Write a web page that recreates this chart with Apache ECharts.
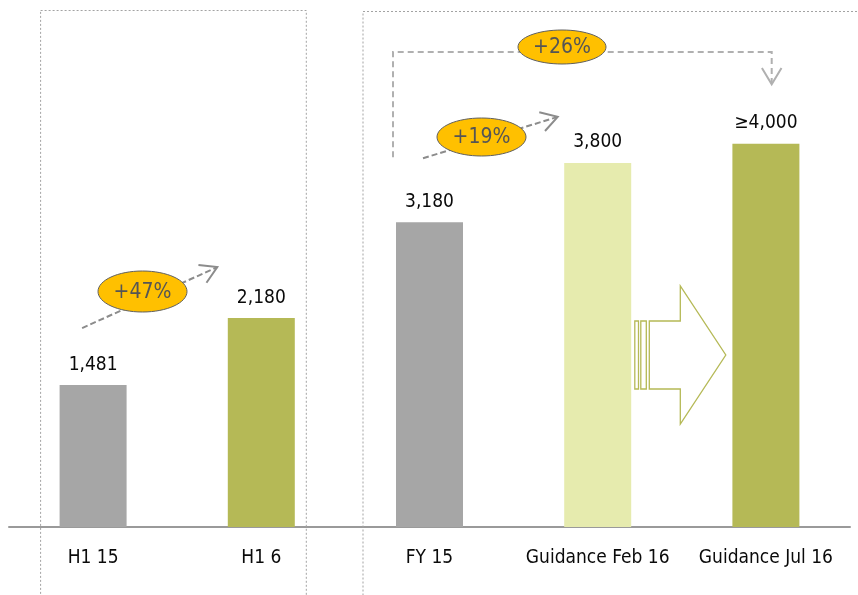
<!DOCTYPE html>
<html>
<head>
<meta charset="utf-8">
<script src="https://cdn.jsdelivr.net/npm/echarts@6/dist/echarts.min.js"></script>
<style>
  html, body { margin: 0; padding: 0; background: #fff; }
  #chart { width: 858px; height: 595px; }
</style>
</head>
<body>
<div id="chart"></div>
<script>
// Revenue figures by period (and guidance)
const categories = ['H1 15', 'H1 6', 'FY 15', 'Guidance Feb 16', 'Guidance Jul 16'];
const values = [1481, 2180, 3180, 3800, 4000];
const labelPrefix = ['', '', '', '', '≥'];
const barColors = ['#a6a6a6', '#b5b956', '#a6a6a6', '#e6ebae', '#b5b956'];
// Growth call-outs: H1 15 -> H1 6, FY 15 -> Feb guidance, FY 15 -> Jul guidance
const growthLabels = ['+47%', '+19%', '+26%'];

const FONT = '"DejaVu Sans Condensed", "DejaVu Sans", sans-serif';

const chart = echarts.init(document.getElementById('chart'), null, { renderer: 'canvas' });

chart.setOption({
  animation: false,
  grid: { left: 9, right: 8, top: 0, bottom: 68 },
  xAxis: {
    type: 'category',
    data: categories,
    axisLine: { lineStyle: { color: '#9a9a9a', width: 2 } },
    axisTick: { show: false },
    axisLabel: { interval: 0, fontFamily: FONT, fontSize: 19, color: '#0a0a0a', margin: 22 }
  },
  yAxis: {
    type: 'value', min: 0, max: 5500, show: false,
    splitLine: { show: false }
  },
  series: [{
    type: 'bar',
    barWidth: 67,
    data: values.map((v, i) => ({ value: v, itemStyle: { color: barColors[i] } })),
    label: {
      show: true,
      position: 'top',
      distance: 11,
      fontFamily: FONT,
      fontSize: 19,
      color: '#0a0a0a',
      formatter: p => labelPrefix[p.dataIndex] + p.value.toLocaleString('en-US')
    }
  }]
});

// ---- Annotations anchored on the axes ----
const cx = i => chart.convertToPixel({ xAxisIndex: 0 }, categories[i]);
const vy = v => chart.convertToPixel({ yAxisIndex: 0 }, v);
const barTop = i => vy(values[i]);

const graphics = [];

// Dotted frames grouping half-year and full-year figures
const frameStyle = { fill: 'none', stroke: '#a3a3a3', lineWidth: 1, lineDash: [2, 2] };
graphics.push({
  type: 'rect', z: 1,
  shape: { x: cx(0) - 52.5, y: 10.5, width: (cx(1) + 45) - (cx(0) - 52.5), height: 700 },
  style: frameStyle
});
graphics.push({
  type: 'rect', z: 1,
  shape: { x: cx(2) - 66.5, y: 11.5, width: 600, height: 700 },
  style: frameStyle
});

// Dashed line with an open arrowhead at the last point
function dashedArrow(pts, color, dash) {
  graphics.push({
    type: 'polyline', z: 5,
    shape: { points: pts },
    style: { fill: 'none', stroke: color, lineWidth: 2, lineDash: dash }
  });
  const [x1, y1] = pts[pts.length - 2];
  const [x2, y2] = pts[pts.length - 1];
  const back = Math.atan2(y1 - y2, x1 - x2);
  const len = 19, spread = 31 * Math.PI / 180;
  graphics.push({
    type: 'polyline', z: 5,
    shape: { points: [
      [x2 + len * Math.cos(back + spread), y2 + len * Math.sin(back + spread)],
      [x2, y2],
      [x2 + len * Math.cos(back - spread), y2 + len * Math.sin(back - spread)]
    ] },
    style: { fill: 'none', stroke: color, lineWidth: 2 }
  });
}

function badge(x, y, rx, ry, text) {
  graphics.push({
    type: 'ellipse', z: 6,
    shape: { cx: x, cy: y, rx: rx, ry: ry },
    style: { fill: '#ffc000', stroke: '#5f5f5f', lineWidth: 1 }
  });
  graphics.push({
    type: 'text', z: 7,
    style: {
      text: text, x: x, y: y + 1,
      align: 'center', verticalAlign: 'middle',
      textAlign: 'center', textVerticalAlign: 'middle',
      fontFamily: FONT, fontSize: 21, fill: '#555555'
    }
  });
}

// +47%: H1 15 -> H1 6
dashedArrow([[cx(0) - 11, barTop(0) - 57], [cx(1) - 44, barTop(1) - 51]], '#8c8c8c', [6, 3]);
badge(142.5, 291.5, 44.5, 20.5, growthLabels[0]);

// +19%: FY 15 -> Guidance Feb 16
dashedArrow([[cx(2) - 6.5, barTop(2) - 64], [cx(3) - 40, barTop(3) - 46]], '#8c8c8c', [6, 3]);
badge(481.5, 137, 44.5, 19, growthLabels[1]);

// +26%: FY 15 -> Guidance Jul 16 (elbow connector)
const elbowY = 52;
dashedArrow([
  [cx(2) - 36.5, barTop(2) - 65],
  [cx(2) - 36.5, elbowY],
  [cx(4) + 5.8, elbowY],
  [cx(4) + 5.8, barTop(4) - 59.5]
], '#b0b0b0', [6, 4]);
badge(562, 47, 44, 17, growthLabels[2]);

// Hollow block arrow from Feb guidance to Jul guidance
const gx = (cx(3) + cx(4)) / 2;
const my = vy(0) - 172;
const olive = '#b5b956';
const arrowStyle = { fill: '#fff', stroke: olive, lineWidth: 1.3 };
graphics.push({
  type: 'polygon', z: 4,
  shape: { points: [
    [gx - 32.5, my - 34], [gx - 1.5, my - 34], [gx - 1.5, my - 69],
    [gx + 44, my], [gx - 1.5, my + 69], [gx - 1.5, my + 34], [gx - 32.5, my + 34]
  ] },
  style: arrowStyle
});
graphics.push({
  type: 'rect', z: 4,
  shape: { x: gx - 47, y: my - 34, width: 3.7, height: 68 },
  style: arrowStyle
});
graphics.push({
  type: 'rect', z: 4,
  shape: { x: gx - 41, y: my - 34, width: 5.5, height: 68 },
  style: arrowStyle
});

chart.setOption({ graphic: graphics });
</script>
</body>
</html>
